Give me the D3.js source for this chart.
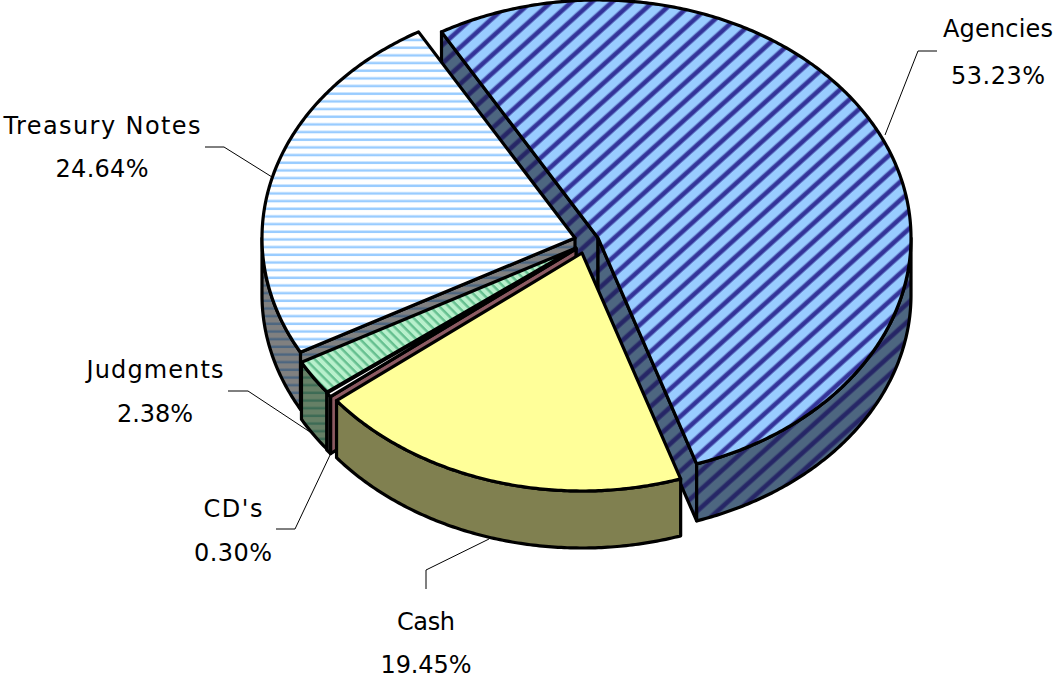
<!DOCTYPE html>
<html>
<head>
<meta charset="utf-8">
<script src="https://cdn.jsdelivr.net/npm/d3@7"></script>
<style>
html,body{margin:0;padding:0;background:#fff;overflow:hidden}
text{font-family:"DejaVu Sans",sans-serif;font-size:24px;fill:#000;text-anchor:middle}
</style>
</head>
<body>
<svg id="c" width="1053" height="679"></svg>
<script>
const categories = ["Agencies","Cash","CD's","Judgments","Treasury Notes"];
const shares = [53.23,19.45,0.30,2.38,24.64];
const shareLabels = ["53.23%","19.45%","0.30%","2.38%","24.64%"];
const explodeX = [598,582,576,576,575];
const explodeY = [238,253,249,248,238];
const topFills = ["url(#pTopA)","#ffff99","#ffffff","url(#pTopJ)","url(#pTopT)"];
const sideFills = ["url(#pSideA)","#808050","#4d4d4d","url(#pSideJ)","url(#pSideT)"];
const faceFills = ["url(#pSideA)","#808050","#8c5a62","url(#pSideJ)","url(#pSideT)"];
const drawOrder = [0,4,3,2,1];
const labelX = [998,426,233,155,102];
const labelY = [37,630,517,378,134];
const valueY = [84,673,561,422,177];
const nameWidths = [110,58,59,137,197];
const valueWidths = [94,91,78,76,93];
const leaders = [
  [[937,51],[918,51],[885,135]],
  [[426,589],[426,570],[489,539]],
  [[276,529],[295,529],[331,453]],
  [[228,391],[248,391],[310,432]],
  [[205,147],[224,147],[272,177]]
];

const RX=313, RY=238, DEPTH=57;
const svg=d3.select("#c");
const defs=svg.append("defs");
function stripes(id,bg,fg,period,sw,rot){
  const gid=id+"G";
  const lg=defs.append("linearGradient").attr("id",gid);
  const e=sw/period, m=0.12;
  [[0,bg],[m,fg],[m+e*0.6,fg],[2*m+e*0.6,bg],[1,bg]].forEach(s=>
    lg.append("stop").attr("offset",s[0]).attr("stop-color",s[1]));
  const p=defs.append("pattern").attr("id",id).attr("patternUnits","userSpaceOnUse")
    .attr("width",period).attr("height",period).attr("patternTransform",`rotate(${rot})`);
  p.append("rect").attr("width",period).attr("height",period).attr("fill",`url(#${gid})`);
}
stripes("pTopA","#99ccff","#333399",13.6,5,48);
stripes("pSideA","#4d6680","#262666",13.6,5,48);
stripes("pTopT","#ffffff","#99ccff",7.67,2.6,90);
stripes("pSideT","#808080","#4d6680",7.67,2.6,90);
stripes("pTopJ","#b8f0cc","#66c090",6.6,2.8,-45);
stripes("pSideJ","#668066","#3d6b55",7.67,2.6,90);

const unitX=d3.scaleLinear().domain([-1,1]).range([-RX,RX]);
const unitY=d3.scaleLinear().domain([-1,1]).range([-RY,RY]);
const rim=(a,cx,cy)=>[cx+unitX(Math.sin(a)),cy+unitY(-Math.cos(a))];
const startAngle=-30*Math.PI/180;
const arcs=d3.pie().sort(null).startAngle(startAngle).endAngle(startAngle+2*Math.PI)(shares);
const line=d3.line();
function sample(a0,a1,cx,cy,dz=0){
  const n=Math.max(2,Math.ceil(Math.abs(a1-a0)/0.01));
  return d3.range(n+1).map(i=>{const p=rim(a0+(a1-a0)*i/n,cx,cy);return [p[0],p[1]+dz];});
}
const g=svg.append("g").attr("stroke","#000").attr("stroke-width",3.2).attr("stroke-linejoin","round");
drawOrder.forEach(i=>{
  const a=arcs[i],cx=explodeX[i],cy=explodeY[i];
  const a0=a.startAngle,a1=a.endAngle;
  const face=(t)=>{
    const r=rim(t,cx,cy);
    g.append("path").attr("d",line([[cx,cy],r,[r[0],r[1]+DEPTH],[cx,cy+DEPTH]])+"Z").attr("fill",faceFills[i]);
  };
  if(-Math.cos(a0-Math.PI/2)>0) face(a0);
  if(-Math.cos(a1+Math.PI/2)>0) face(a1);
  const w0=Math.max(a0,Math.PI/2),w1=Math.min(a1,1.5*Math.PI);
  if(w1>w0){
    const pts=sample(w0,w1,cx,cy).concat(sample(w1,w0,cx,cy,DEPTH));
    g.append("path").attr("d",line(pts)+"Z").attr("fill",sideFills[i]);
  }
  const topPts=[[cx,cy]].concat(sample(a0,a1,cx,cy));
  g.append("path").attr("d",line(topPts)+"Z").attr("fill",topFills[i]);
});
const lg=svg.append("g").attr("fill","none").attr("stroke","#000").attr("stroke-width",1);
leaders.forEach(l=>lg.append("path").attr("d",line(l)));
const tg=svg.append("g");
categories.forEach((c,i)=>{
  tg.append("text").attr("x",labelX[i]).attr("y",labelY[i]).attr("textLength",nameWidths[i]).attr("lengthAdjust","spacing").text(c);
  tg.append("text").attr("x",labelX[i]).attr("y",valueY[i]).attr("textLength",valueWidths[i]).attr("lengthAdjust","spacing").text(shareLabels[i]);
});
</script>
</body>
</html>
